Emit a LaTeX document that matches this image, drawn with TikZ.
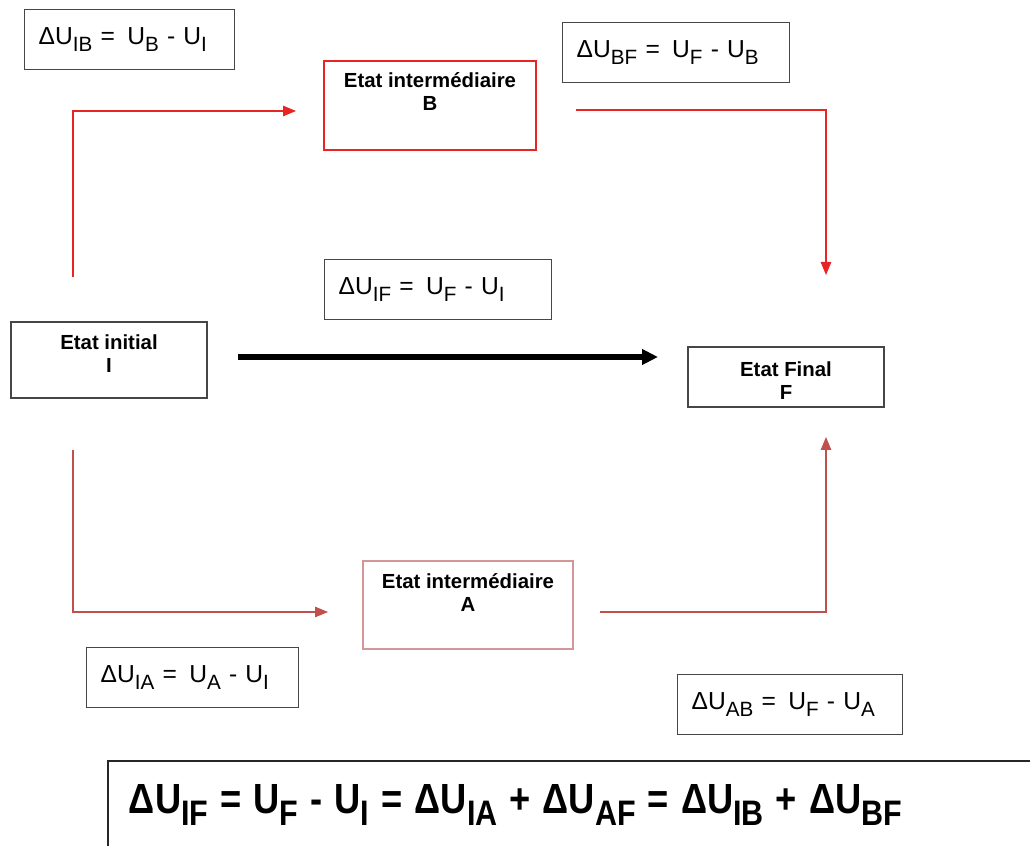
\documentclass[tikz,border=0pt]{standalone}
\usepackage{fontspec}
\usepackage{graphicx}
\setmainfont{Liberation Sans}
\usetikzlibrary{arrows.meta}

\definecolor{topRed}{RGB}{232,36,36}
\definecolor{lowRed}{RGB}{192,80,77}
\definecolor{aRed}{RGB}{212,150,150}
\definecolor{boxGray}{RGB}{70,70,70}

\newcommand{\sbs}[1]{\raisebox{-0.5ex}{\scalebox{0.84}{#1}}}
\newcommand{\DU}[1]{ΔU\sbs{#1}}

\begin{document}
\begin{tikzpicture}[
    x=0.2mm, y=-0.2mm, every node/.style={font=\fontsize{11.6}{13}\selectfont},
    stateBox/.style={rectangle, draw=boxGray, line width=0.8pt, minimum width=3.92cm, minimum height=1.2cm, inner sep=0pt},
    midBox/.style={rectangle, draw=#1, line width=0.8pt, minimum width=4.22cm, minimum height=1.77cm, inner sep=0pt},
    stateText/.style={font=\bfseries\fontsize{11.6}{13}\selectfont, align=center, inner sep=0pt, anchor=north},
    deltaBox/.style={rectangle, draw=boxGray, line width=0.8pt, anchor=north west, text width=#1, inner xsep=0.28cm, minimum height=1.2cm, align=left, font=\fontsize{14}{16}\selectfont},
    bigBox/.style={rectangle, draw=black!85, line width=1.1pt, anchor=north west, text width=19cm, align=left, inner xsep=0.42cm, inner ysep=0.44cm, text height=0.62cm, text depth=2cm, font=\bfseries\fontsize{24}{28}\selectfont},
    topPath/.style={draw=topRed, line width=0.6pt, -{Triangle[length=0.26cm, width=0.21cm]}},
    lowPath/.style={draw=lowRed, line width=0.6pt, -{Triangle[length=0.26cm, width=0.21cm]}},
    mainArrow/.style={draw=black, line width=3pt, -{Triangle[length=0.32cm, width=0.3cm]}}
]
    \useasboundingbox (0,0) rectangle (1030,846);
    \clip (0,0) rectangle (1030,846);

    \node[stateBox, minimum height=1.52cm] (I) at (109,360) {};
    \node[stateText] (I-t) at ([yshift=-0.26cm]I.north) {Etat initial\\I};
    \node[stateBox] (F) at (786,377) {};
    \node[stateText] (F-t) at ([yshift=-0.3cm]F.north) {Etat Final\\F};
    \node[midBox=topRed, minimum width=4.24cm, minimum height=1.78cm] (B) at (430,105.5) {};
    \node[stateText] (B-t) at ([yshift=-0.24cm]B.north) {Etat intermédiaire\\B};
    \node[midBox=aRed, minimum width=4.2cm, minimum height=1.76cm] (A) at (468,605) {};
    \node[stateText] (A-t) at ([yshift=-0.26cm]A.north) {Etat intermédiaire\\A};

    \node[deltaBox=3.64cm] (dIB) at (24,9) {\DU{IB} = \,U\sbs{B} - U\sbs{I}};
    \node[deltaBox=3.98cm] (dBF) at (562,22) {\DU{BF} = \,U\sbs{F} - U\sbs{B}};
    \node[deltaBox=3.98cm] (dIF) at (324,259) {\DU{IF} = \,U\sbs{F} - U\sbs{I}};
    \node[deltaBox=3.68cm] (dIA) at (86,647) {\DU{IA} = \,U\sbs{A} - U\sbs{I}};
    \node[deltaBox=3.94cm] (dAB) at (677,674) {\DU{AB} = \,U\sbs{F} - U\sbs{A}};
    \node[bigBox] (sum) at (107,760) {\scalebox{0.86}[1]{\DU{IF} = U\sbs{F} - U\sbs{I} = \DU{IA} + \DU{AF} = \DU{IB} + \DU{BF}}};

    \coordinate (Iup) at (73,277);
    \coordinate (Bin) at (296,111);
    \coordinate (Bout) at (576,110);
    \coordinate (Fup) at (826,275);
    \coordinate (Idn) at (73,450);
    \coordinate (Ain) at (328,612);
    \coordinate (Aout) at (600,612);
    \coordinate (Fdn) at (826,437);
    \coordinate (Iright) at (238,357);
    \coordinate (Fleft) at (658,357);

    \draw[topPath] (Iup) |- (Bin);
    \draw[topPath] (Bout) -| (Fup);
    \draw[lowPath] (Idn) |- (Ain);
    \draw[lowPath] (Aout) -| (Fdn);
    \draw[mainArrow] (Iright) -- (Fleft);
\end{tikzpicture}
\end{document}
